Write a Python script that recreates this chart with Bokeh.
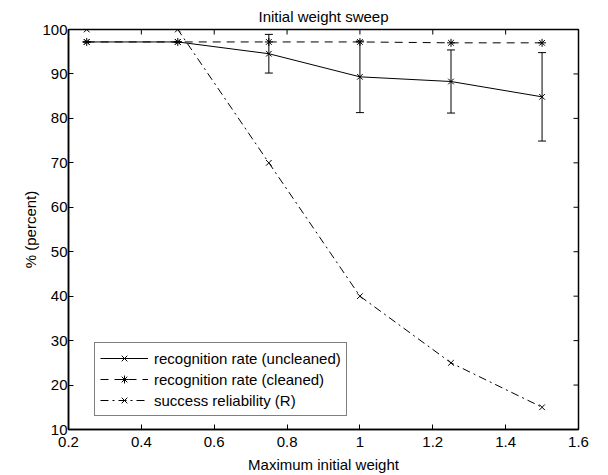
import math
from bokeh.plotting import figure
from bokeh.models import (Range1d, Whisker, ColumnDataSource, Legend,
                          LegendItem, FixedTicker, TeeHead)
from bokeh.embed import file_html
from bokeh.resources import INLINE

# ---- data ----
weights = [0.25, 0.5, 0.75, 1.0, 1.25, 1.5]
uncleaned = [97.2, 97.2, 94.55, 89.35, 88.3, 84.85]
uncleaned_err = [0.0, 0.0, 4.35, 8.05, 7.1, 9.95]
cleaned = [97.2, 97.2, 97.2, 97.2, 97.0, 97.0]
reliability = [100, 100, 70, 40, 25, 15]

x_ticks = [0.2, 0.4, 0.6, 0.8, 1.0, 1.2, 1.4, 1.6]
y_ticks = [10, 20, 30, 40, 50, 60, 70, 80, 90, 100]
x_min, x_max = 0.2, 1.6
y_min, y_max = 10, 100
title_text = "Initial weight sweep"

FONT = "Liberation Sans"
FS = "15px"

src = ColumnDataSource(dict(
    x=weights, u=uncleaned, c=cleaned, r=reliability,
    lo=[u - e for u, e in zip(uncleaned, uncleaned_err)],
    hi=[u + e for u, e in zip(uncleaned, uncleaned_err)],
))

p = figure(width=608, height=475, output_backend="svg", toolbar_location=None,
           x_range=Range1d(x_min, x_max), y_range=Range1d(y_min, y_max),
           min_border_left=68, min_border_right=30, min_border_top=29,
           min_border_bottom=45, title=title_text)
p.title.align = "center"
p.title.vertical_align = "bottom"
p.title.text_font = FONT
p.title.text_font_size = FS
p.title.text_font_style = "normal"
p.title.text_color = "black"
p.title.text_line_height = 1.0
p.title.standoff = 10
p.title.offset = 0

p.xgrid.visible = False
p.ygrid.visible = False
p.outline_line_color = "black"
p.outline_line_width = 1.5
p.background_fill_color = "white"
p.border_fill_color = "white"

for ax in (p.xaxis[0], p.yaxis[0]):
    ax.major_tick_in = 5
    ax.major_tick_out = 0
    ax.minor_tick_in = 0
    ax.minor_tick_out = 0
    ax.axis_line_color = "black"
    ax.axis_line_width = 1.5
    ax.major_tick_line_color = "black"
    ax.major_label_text_font = FONT
    ax.major_label_text_font_size = FS
    ax.major_label_text_color = "black"
    ax.axis_label_text_font = FONT
    ax.axis_label_text_font_size = FS
    ax.axis_label_text_font_style = "normal"
    ax.axis_label_text_color = "black"

p.xaxis.ticker = FixedTicker(ticks=x_ticks)
p.yaxis.ticker = FixedTicker(ticks=y_ticks)
p.xaxis.axis_label = "Maximum initial weight"
p.yaxis.axis_label = "% (percent)"
p.xaxis.major_label_standoff = 7
p.xaxis.axis_label_standoff = 6
p.yaxis.major_label_standoff = 1
p.yaxis.axis_label_standoff = 0
p.yaxis.major_label_overrides = {v: str(v) for v in y_ticks}
p.xaxis.major_label_overrides = {0.2: "0.2", 0.4: "0.4", 0.6: "0.6", 0.8: "0.8",
                                 1.0: "1", 1.2: "1.2", 1.4: "1.4", 1.6: "1.6"}

# ticks on the top and right edges of the box (clipped to the frame -> inward half)
p.scatter(x=x_ticks, y=[y_max] * len(x_ticks), marker="dash", size=10,
          angle=math.pi / 2, line_color="black", line_width=1)
p.scatter(x=[x_max] * len(y_ticks), y=y_ticks, marker="dash", size=10,
          line_color="black", line_width=1)

# error bars (uncleaned)
wh = Whisker(source=src, base="x", lower="lo", upper="hi",
             line_color="black", line_width=1,
             upper_head=TeeHead(size=8, line_color="black", line_width=1),
             lower_head=TeeHead(size=8, line_color="black", line_width=1))
p.add_layout(wh)

l_u = p.line("x", "u", source=src, line_color="black", line_width=1)
m_u = p.scatter("x", "u", source=src, marker="x", size=8, line_color="black", line_width=1)

l_c = p.line("x", "c", source=src, line_color="black", line_width=1, line_dash="8 6")
m_c = p.scatter("x", "c", source=src, marker="asterisk", size=8, line_color="black", line_width=1)

l_r = p.line("x", "r", source=src, line_color="black", line_width=1, line_dash="8 4 2 4")
m_r = p.scatter("x", "r", source=src, marker="x", size=8, line_color="black", line_width=1)

legend = Legend(items=[
    LegendItem(label="recognition rate (uncleaned)", renderers=[l_u, m_u]),
    LegendItem(label="recognition rate (cleaned)", renderers=[l_c, m_c]),
    LegendItem(label="success reliability (R)", renderers=[l_r, m_r]),
], location=(26, 13))
legend.border_line_color = "black"
legend.border_line_width = 1
legend.background_fill_color = "white"
legend.background_fill_alpha = 1
legend.label_text_font = FONT
legend.label_text_font_size = FS
legend.label_text_color = "black"
legend.glyph_width = 48
legend.glyph_height = 20
legend.label_height = 20
legend.label_standoff = 6
legend.spacing = 1
legend.padding = 5
legend.margin = 0
p.add_layout(legend)

open("out.html", "w").write(file_html(p, INLINE))
